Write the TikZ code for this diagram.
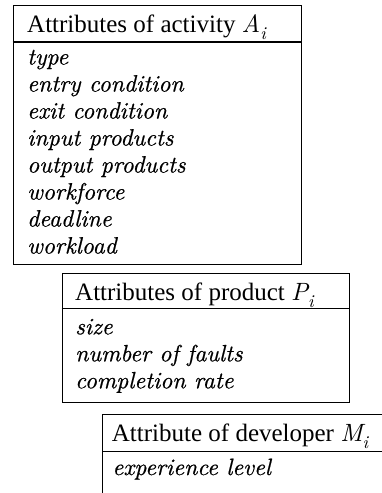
\documentclass[tikz,border=0pt]{standalone}
\usepackage{fontspec}
\setmainfont{Liberation Serif}
\newfontfamily\lmit{lmroman10-italic.otf}
\newfontfamily\itemit{lmroman10-italic.otf}[FakeBold=0.6]
\newcommand{\attrsub}[2]{{\lmit#1}\raisebox{-7pt}{\fontsize{18}{18}\lmit#2}}

\begin{document}
\begin{tikzpicture}[x=1pt, y=-1pt,
	attrbox/.style={draw, line width=0.7pt, inner sep=0pt, anchor=north west},
	hdrline/.style={line width=1.4pt},
	hdrtext/.style={anchor=base west, inner sep=0pt, font=\fontsize{25}{27}\selectfont},
	itemtext/.style={anchor=base west, inner sep=0pt, font=\fontsize{23.6}{27}\itemit}]
	\useasboundingbox (0,0) rectangle (382,493);
	\clip (0,0) rectangle (382,493);
	% activity
	\node[attrbox, minimum width=288.3, minimum height=259.3] (activity) at (12.7,4.7) {};
	\node[hdrtext] (acthdr) at (27,32.3) {Attributes of activity \attrsub{A}{i}};
	\coordinate (actsep) at (12.7,42);
	\draw[hdrline] (actsep) -- (actsep -| activity.east);
	\foreach \t [count=\k] in {type, entry condition, exit condition, input products,
		output products, workforce, deadline, workload}
		\node[itemtext] (act\k) at (27,37.5+27*\k) {\t};
	% product
	\node[attrbox, minimum width=287.6, minimum height=129] (product) at (61.7,272.7) {};
	\node[hdrtext] (prodhdr) at (75,300) {Attributes of product \attrsub{P}{i}};
	\coordinate (prodsep) at (61.7,308.7);
	\draw[hdrline] (prodsep) -- (prodsep -| product.east);
	\foreach \t [count=\k] in {size, number of faults, completion rate}
		\node[itemtext] (prod\k) at (75,307.3+27*\k) {\t};
	% developer
	\node[attrbox, minimum width=300, minimum height=110] (developer) at (102.3,414.3) {};
	\node[hdrtext] (devhdr) at (111.7,441.7) {Attribute of developer \attrsub{M}{i}};
	\coordinate (devsep) at (102.3,451.7);
	\draw[hdrline] (devsep) -- (devsep -| developer.east);
	\node[itemtext] (dev1) at (112.3,475) {experience level};
\end{tikzpicture}
\end{document}
